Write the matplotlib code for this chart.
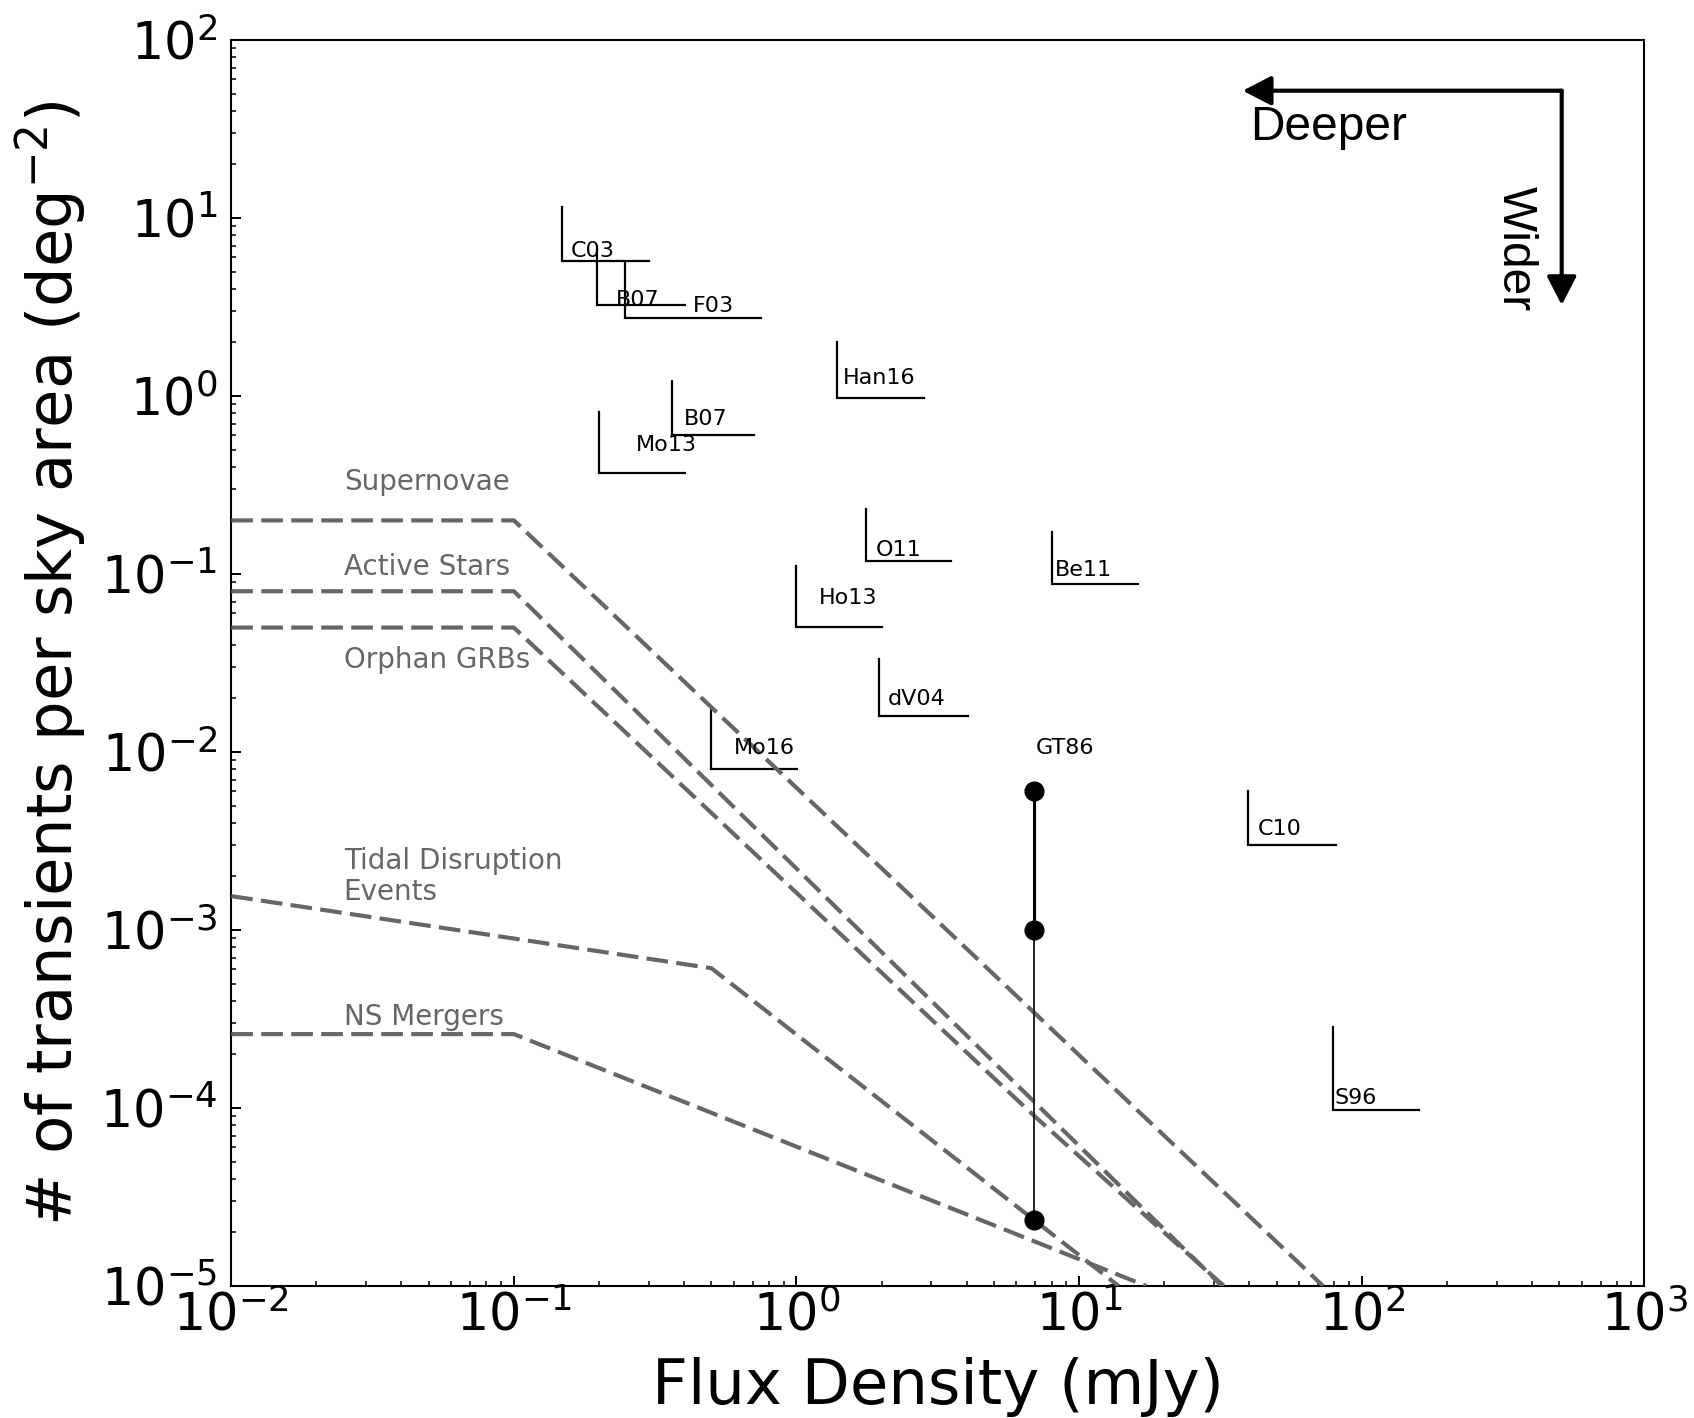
import matplotlib
matplotlib.use("Agg")
import matplotlib.pyplot as plt

# ---------------- data ----------------
# survey limits (corner of the L marks)
survey_names = ['C03', 'B07', 'F03', 'Han16', 'B07', 'Mo13', 'O11', 'Be11',
                'Ho13', 'dV04', 'Mo16', 'C10', 'S96']
survey_flux = [0.148, 0.1965, 0.247, 1.396, 0.363, 0.1995, 1.763, 8.01,
               0.997, 1.96, 0.4985, 39.5, 79.4]
survey_rate = [5.75, 3.23, 2.75, 0.978, 0.601, 0.368, 0.1188, 0.0875,
               0.0502, 0.01587, 0.00806, 0.00299, 9.75e-5]
survey_rate_top = [11.6, 6.6, 5.57, 2.02, 1.219, 0.81, 0.2317, 0.1715,
                   0.1109, 0.0332, 0.01722, 0.00606, 2.84e-4]
survey_flux_right = [0.3016, 0.402, 0.748, 2.83, 0.708, 0.4036, 3.53, 16.2,
                     2.01, 4.04, 1.0074, 81.0, 160.0]
label_flux = [0.159, 0.2305, 0.430, 1.455, 0.400, 0.271, 1.905, 8.22,
              1.200, 2.095, 0.600, 43.0, 80.4]
label_rate = [6.50, 3.44, 3.19, 1.27, 0.742, 0.528, 0.1367, 0.1056,
              0.0732, 0.01983, 0.01052, 0.00369, 1.134e-4]

# GT86 detections
gt86_flux = [6.95, 6.95, 6.95]
gt86_rate = [0.006, 0.001, 2.35e-5]
gt86_label_pos = (7.02, 0.01052)

# model source-count curves
sn_x = [0.01, 0.1, 73.0]
sn_y = [0.2, 0.2, 1e-5]
as_x = [0.01, 0.1, 32.0]
as_y = [0.08, 0.08, 1e-5]
og_x = [0.01, 0.1, 6.9, 32.5]
og_y = [0.05, 0.05, 9.1e-5, 1e-5]
tde_x = [0.01, 0.5, 13.8]
tde_y = [1.55e-3, 6.1e-4, 1e-5]
ns_x = [0.01, 0.1, 17.3]
ns_y = [2.6e-4, 2.6e-4, 1e-5]

model_labels = ['Supernovae', 'Active Stars', 'Orphan GRBs',
                'Tidal Disruption\nEvents', 'NS Mergers']
model_label_x = [0.025, 0.025, 0.025, 0.025, 0.025]
model_label_y = [0.330, 0.1095, 0.0328, 2.0e-3, 3.26e-4]

# ---------------- figure ----------------
fig = plt.figure(figsize=(16.94, 14.18), dpi=100)
ax = fig.add_axes([0.1365, 0.0931, 0.8342, 0.8787])
ax.set_xscale('log')
ax.set_yscale('log')
ax.set_xlim(1e-2, 1e3)
ax.set_ylim(1e-5, 1e2)

grey = '#666666'
for xs, ys in [(sn_x, sn_y), (as_x, as_y), (og_x, og_y), (tde_x, tde_y), (ns_x, ns_y)]:
    ax.plot(xs, ys, color=grey, lw=3.0, dashes=(5.2, 2.0), zorder=3)

for txt, lx, ly in zip(model_labels, model_label_x, model_label_y):
    ax.text(lx, ly, txt, color=grey, fontsize=20, ha='left', va='center',
            linespacing=1.1)

# survey L-shapes
for i in range(len(survey_names)):
    x0, y0 = survey_flux[i], survey_rate[i]
    ax.plot([x0, x0, survey_flux_right[i]], [survey_rate_top[i], y0, y0],
            color='black', lw=1.6, solid_joinstyle='miter', zorder=2)
    ax.text(label_flux[i], label_rate[i], survey_names[i], fontsize=16,
            ha='left', va='center', color='black')

# GT86
ax.plot(gt86_flux[:2], gt86_rate[:2], color='black', lw=2.2, zorder=4)
ax.plot(gt86_flux[1:], gt86_rate[1:], color='#222222', lw=1.4, zorder=4)
ax.plot(gt86_flux, gt86_rate, 'o', color='black', ms=13.5, zorder=5)
ax.text(gt86_label_pos[0], gt86_label_pos[1], 'GT86', fontsize=16,
        ha='left', va='center')

# Deeper / Wider arrows
arrow_kw = dict(arrowstyle='-|>,head_length=0.58,head_width=0.3',
                color='black', lw=3, mutation_scale=30, shrinkA=0, shrinkB=0)
ax.annotate('', xy=(0.7158, 0.9593), xytext=(0.9415, 0.9593),
            xycoords='axes fraction', textcoords='axes fraction',
            arrowprops=arrow_kw)
ax.annotate('', xy=(0.9415, 0.7873), xytext=(0.9415, 0.9593),
            xycoords='axes fraction', textcoords='axes fraction',
            arrowprops=arrow_kw)
ax.text(0.7210, 0.9200, 'Deeper', transform=ax.transAxes, fontsize=34.5,
        family='Liberation Sans', ha='left', va='baseline')
ax.text(0.9085, 0.883, 'Wider', transform=ax.transAxes, fontsize=34.5,
        family='Liberation Sans', ha='center', va='top', rotation=270)

# axes styling
for s in ax.spines.values():
    s.set_linewidth(1.5)
ax.tick_params(which='both', direction='in', top=False, right=False)
ax.tick_params(which='major', length=7, width=1.4, labelsize=36.5)
ax.tick_params(axis='y', which='major', pad=10)
ax.tick_params(axis='x', which='major', pad=3.5)
ax.tick_params(which='minor', length=3.6, width=1.1)

ax.set_xlabel('Flux Density (mJy)', fontsize=45)
ax.set_ylabel('# of transients per sky area (deg$^{-2}$)', fontsize=45)
ax.xaxis.set_label_coords(0.5, -0.057)
ax.yaxis.set_label_coords(-0.1005, 0.5)

fig.savefig('out.png', dpi=100)
